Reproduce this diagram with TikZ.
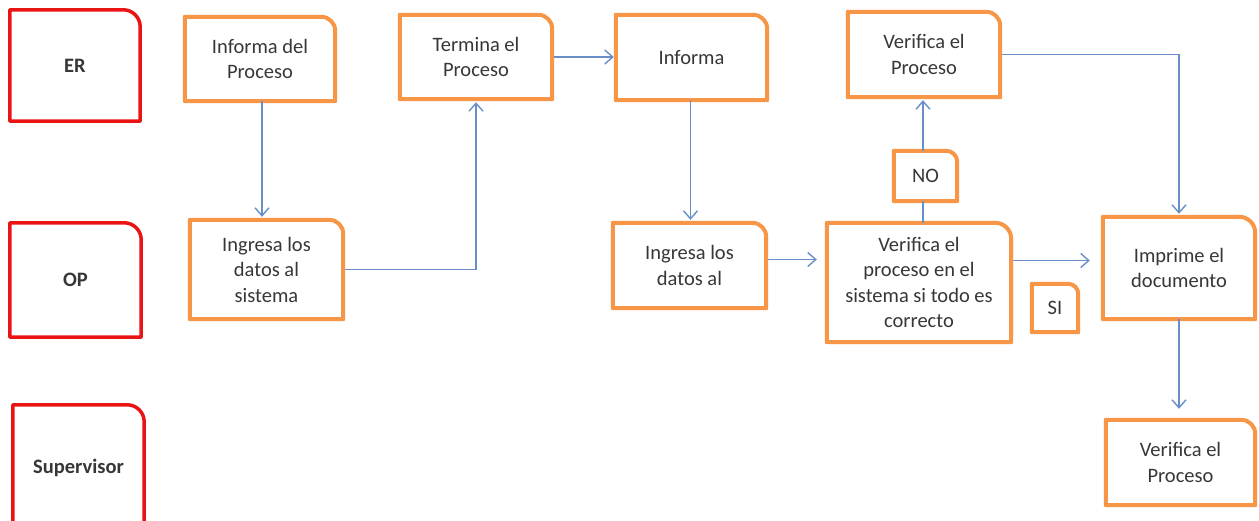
\documentclass[tikz,border=0pt]{standalone}
\usepackage{fontspec}
\setmainfont{Carlito}
\usetikzlibrary{arrows.meta}
\definecolor{boxorange}{RGB}{247,150,70}
\definecolor{boxred}{RGB}{235,20,20}
\definecolor{linkblue}{RGB}{105,142,200}
\definecolor{txtgray}{RGB}{55,55,55}
\tikzset{
  lbl/.style={inner sep=0pt, align=center, text=txtgray,
    font=\fontsize{20.5}{25.5}\selectfont},
  lane/.style={lbl, font=\fontsize{20.5}{25.5}\selectfont\bfseries},
  redline/.style={draw=boxred, line width=3.5pt, line join=round},
  orangeline/.style={draw=boxorange, line width=4pt, line join=round},
  arr/.style={draw=linkblue, line width=1.4pt,
    -{Straight Barb[length=8pt,width=14pt,line width=1.4pt]}},
  link/.style={draw=linkblue, line width=1.4pt}
}
\begin{document}
\begin{tikzpicture}[x=1pt,y=-1pt]
\clip (0,0) rectangle (1259,521);
\fill[white] (0,0) rectangle (1259,521);
% lanes
\node[lane, minimum width=130pt, minimum height=111pt] (er) at (75,65.5) {ER};
\node[lane, minimum width=131pt, minimum height=114pt] (op) at (75.5,280) {OP};
\node[lane, minimum width=131pt, minimum height=125pt] (sup) at (78.5,467.5) {Supervisor};
% process boxes
\node[lbl, minimum width=150pt, minimum height=84pt] (a1) at (260,59) {Informa del\\Proceso};
\node[lbl, minimum width=153pt, minimum height=99pt] (a2) at (266.5,269.5) {Ingresa los\\datos al\\sistema};
\node[lbl, minimum width=152pt, minimum height=84pt] (a3) at (476,57) {Termina el\\Proceso};
\node[lbl, minimum width=151pt, minimum height=85pt] (a4) at (691.5,57.5) {Informa};
\node[lbl, minimum width=153pt, minimum height=85pt] (a5) at (689.5,265.5) {Ingresa los\\datos al};
\node[lbl, minimum width=184pt, minimum height=119pt] (a6) at (919,282.5) {Verifica el\\proceso en el\\sistema si todo es\\correcto};
\node[lbl, minimum width=63pt, minimum height=50pt] (no) at (925.5,176) {NO};
\node[lbl, minimum width=46pt, minimum height=48pt] (si) at (1055,308) {SI};
\node[lbl, minimum width=152pt, minimum height=85pt] (a7) at (924,54.5) {Verifica el\\Proceso};
\node[lbl, minimum width=152pt, minimum height=102pt] (a8) at (1179,268) {Imprime el\\documento};
\node[lbl, minimum width=149pt, minimum height=85pt] (a9) at (1180.5,462.5) {Verifica el\\Proceso};
% outlines with one rounded corner (top right)
\foreach \n/\r in {er/17,op/17,sup/17}
  \draw[redline] (\n.north) [rounded corners=\r pt] -- (\n.north east) -- (\n.east)
    [sharp corners] -- (\n.south east) -- (\n.south west) -- (\n.north west) -- cycle;
\foreach \n/\r in {a1/14,a2/14,a3/14,a4/14,a5/14,a6/16,no/11,si/10,a7/14,a8/16,a9/14}
  \draw[orangeline] (\n.north) [rounded corners=\r pt] -- (\n.north east) -- (\n.east)
    [sharp corners] -- (\n.south east) -- (\n.south west) -- (\n.north west) -- cycle;
% connectors
\draw[arr, shorten >=3pt] ([xshift=2pt]a1.south) -- ([xshift=2pt]a1.south |- a2.north);
\draw[arr, shorten <=2pt, shorten >=3pt] (a2.east) -| (a3.south);
\draw[arr, shorten <=2pt, shorten >=2pt] (a3.east) -- (a3.east -| a4.west);
\draw[arr, shorten >=3pt] ([xshift=-1pt]a4.south) -- ([xshift=-1pt]a4.south |- a5.north);
\draw[arr, shorten <=2pt, shorten >=10pt] ([yshift=6pt]a5.east) -- ([yshift=6pt]a5.east -| a6.west);
\draw[link] ([xshift=-2.5pt]no.south) -- ([xshift=-2.5pt]no.south |- a6.north);
\draw[arr, shorten >=3pt] ([xshift=-2.5pt]no.north) -- ([xshift=-2.5pt]no.north |- a7.south);
\draw[arr, shorten <=2pt, shorten >=3pt] (a7.east) -| (a8.north);
\draw[arr, shorten <=2pt, shorten >=13pt] ([yshift=22pt]a6.east) -- ([yshift=22pt]a6.east -| a8.west);
\draw[arr, shorten >=11pt] (a8.south) -- (a8.south |- a9.north);
\end{tikzpicture}
\end{document}
